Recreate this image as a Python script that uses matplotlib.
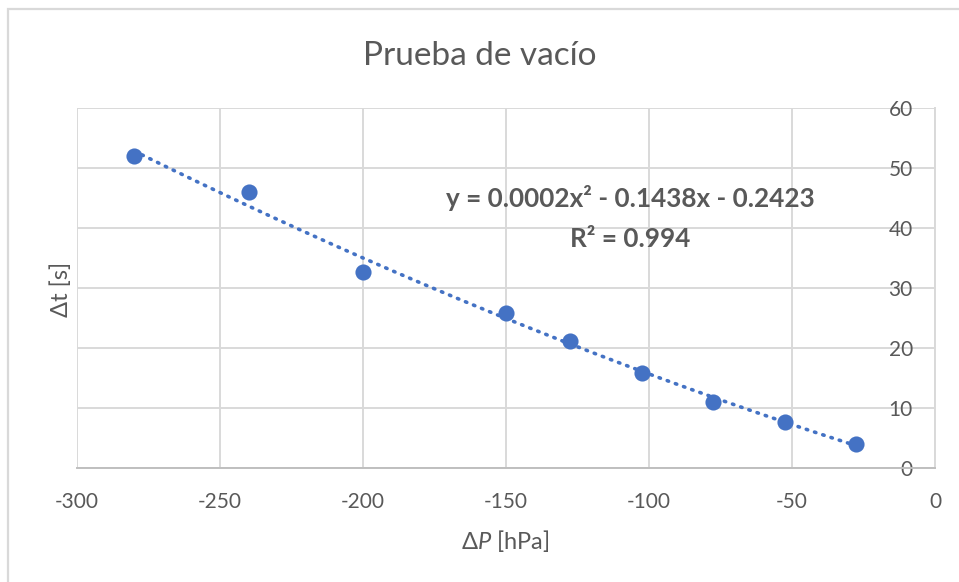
#!/usr/bin/env python3
"""Vacuum test: time difference vs pressure difference with a quadratic trendline."""
from __future__ import annotations

import matplotlib

matplotlib.use("Agg")
import matplotlib.pyplot as plt
import numpy as np
from matplotlib.patches import Rectangle

TITLE = "Prueba de vacío"
X_LABEL = "Δ$\\it{P}$ [hPa]"
Y_LABEL = "Δt [s]"
EQUATION = "y = 0.0002x² - 0.1438x - 0.2423"
R_SQUARED = "R² = 0.994"

delta_p = [-280, -240, -200, -150, -127.5, -102.5, -77.5, -52.5, -27.5]
delta_t = [52.0, 46.1, 32.7, 25.8, 21.2, 15.9, 11.0, 7.7, 4.0]
x_ticks = [-300, -250, -200, -150, -100, -50, 0]
y_ticks = [0, 10, 20, 30, 40, 50, 60]

BLUE = "#4472C4"
TEXT = "#595959"
GRID = "#D9D9D9"
FONT = ["Lato", "DejaVu Sans"]


def main() -> None:
    plt.rcParams["font.family"] = FONT
    plt.rcParams["axes.unicode_minus"] = False
    plt.rcParams["mathtext.fontset"] = "custom"
    plt.rcParams["mathtext.it"] = "Lato:italic"
    plt.rcParams["mathtext.rm"] = "Lato"

    fig = plt.figure(figsize=(9.59, 5.82), dpi=100)
    ax = fig.add_axes([0.0803, 0.196, 0.8947, 0.618])

    # chart border (only top/left visible in the crop)
    fig.patches.append(Rectangle((8 / 959, -0.1), 1.2, 1 - 9 / 582 + 0.1,
                                 transform=fig.transFigure, fill=False,
                                 edgecolor=GRID, linewidth=1.6))

    # quadratic trendline over the data range
    coeffs = np.polyfit(delta_p, delta_t, 2)
    xs = np.linspace(min(delta_p), max(delta_p), 200)
    ax.plot(xs, np.polyval(coeffs, xs), color=BLUE, linewidth=2.6,
            linestyle=(0, (0.4, 2.0)), dash_capstyle="round", zorder=3)
    ax.scatter(delta_p, delta_t, s=135, color=BLUE, zorder=4, linewidths=0)

    ax.set_xlim(-300, 0)
    ax.set_ylim(0, 60)
    ax.set_xticks(x_ticks)
    ax.set_yticks(y_ticks)
    ax.grid(color=GRID, linewidth=1.4)
    ax.set_axisbelow(True)

    for side in ("top", "left"):
        ax.spines[side].set_visible(False)
    ax.spines["bottom"].set_color("#BFBFBF")
    ax.spines["bottom"].set_linewidth(1.4)
    ax.spines["right"].set_color(GRID)
    ax.spines["right"].set_linewidth(1.4)

    ax.tick_params(axis="x", length=0, pad=17, labelsize=15, labelcolor=TEXT)
    ax.tick_params(axis="y", length=0, left=False, labelleft=False,
                   right=False, labelright=True, pad=-16,
                   labelsize=15, labelcolor=TEXT)
    for label in ax.get_yticklabels():
        label.set_horizontalalignment("right")

    fig.text(0.5, 1 - 56 / 582, TITLE, ha="center", va="center",
             fontsize=24, color=TEXT)
    fig.text(505 / 959, 1 - 541 / 582, X_LABEL, ha="center", va="center",
             fontsize=17, color=TEXT)
    fig.text(61 / 959, 1 - 289 / 582, Y_LABEL, ha="center", va="center",
             rotation=90, fontsize=17, color=TEXT)

    fig.text(630 / 959, 1 - 198 / 582, EQUATION, ha="center", va="center",
             fontsize=18.8, fontweight="bold", color=TEXT)
    fig.text(630 / 959, 1 - 239 / 582, R_SQUARED, ha="center", va="center",
             fontsize=18.8, fontweight="bold", color=TEXT)

    fig.savefig("out.png", dpi=100)
    plt.close(fig)


if __name__ == "__main__":
    main()
